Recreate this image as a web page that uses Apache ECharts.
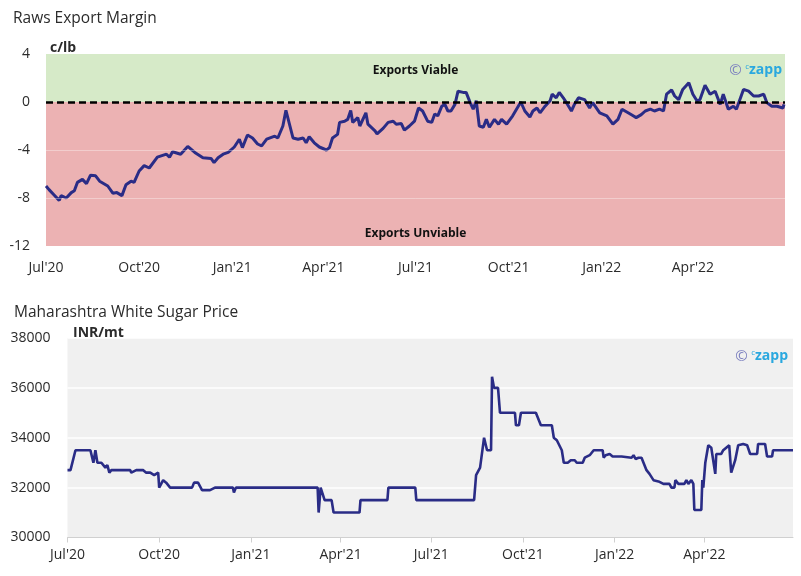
<!DOCTYPE html>
<html>
<head>
<meta charset="utf-8">
<script src="https://cdn.jsdelivr.net/npm/echarts@6/dist/echarts.min.js"></script>
<style>
html,body{margin:0;padding:0;background:#fff;}
#chart{width:801px;height:576px;}
</style>
</head>
<body>
<div id="chart"></div>
<script>
// ---- Data ----
const quarterTicks = ['2020-07-01','2020-10-01','2021-01-01','2021-04-01','2021-07-01','2021-10-01','2022-01-01','2022-04-01'];
const quarterLabels = ["Jul'20","Oct'20","Jan'21","Apr'21","Jul'21","Oct'21","Jan'22","Apr'22"];
const marginTicks = [4, 0, -4, -8, -12];
const priceTicks = [38000, 36000, 34000, 32000, 30000];

const marginDates = ['2020-07-01','2020-07-04','2020-07-09','2020-07-14','2020-07-16','2020-07-21','2020-07-26','2020-07-29',
'2020-08-01','2020-08-06','2020-08-10','2020-08-14','2020-08-19','2020-08-23','2020-08-31','2020-09-05','2020-09-09',
'2020-09-14','2020-09-18','2020-09-23','2020-09-26','2020-10-01','2020-10-06','2020-10-11','2020-10-19','2020-10-28',
'2020-10-31','2020-11-03','2020-11-11','2020-11-18','2020-11-25','2020-12-03','2020-12-11','2020-12-14','2020-12-18',
'2020-12-23','2020-12-28','2021-01-03','2021-01-08','2021-01-11','2021-01-16','2021-01-21','2021-01-26','2021-01-30',
'2021-02-04','2021-02-12','2021-02-15','2021-02-20','2021-02-23','2021-03-02','2021-03-07','2021-03-12','2021-03-15',
'2021-03-18','2021-03-23','2021-03-28','2021-04-04','2021-04-07','2021-04-10','2021-04-15','2021-04-17','2021-04-22',
'2021-04-25','2021-04-28','2021-04-30','2021-05-05','2021-05-07','2021-05-13','2021-05-15','2021-05-22','2021-05-24',
'2021-05-30','2021-06-04','2021-06-09','2021-06-12','2021-06-17','2021-06-20','2021-06-25','2021-06-30','2021-07-04',
'2021-07-08','2021-07-13','2021-07-17','2021-07-20','2021-07-23','2021-07-27','2021-07-30','2021-08-02','2021-08-05',
'2021-08-09','2021-08-12','2021-08-17','2021-08-20','2021-08-24','2021-08-27','2021-08-30','2021-09-02','2021-09-06',
'2021-09-09','2021-09-12','2021-09-17','2021-09-21','2021-09-24','2021-09-29','2021-10-05','2021-10-13','2021-10-17',
'2021-10-22','2021-10-25','2021-10-29','2021-11-01','2021-11-06','2021-11-11','2021-11-13','2021-11-17','2021-11-20',
'2021-11-24','2021-11-27','2021-12-02','2021-12-05','2021-12-09','2021-12-15','2021-12-20','2021-12-23','2021-12-30',
'2022-01-06','2022-01-12','2022-01-17','2022-01-21','2022-01-27','2022-02-01','2022-02-04','2022-02-09','2022-02-13',
'2022-02-18','2022-02-22','2022-02-27','2022-03-03','2022-03-06','2022-03-11','2022-03-14','2022-03-18','2022-03-22',
'2022-03-28','2022-04-01','2022-04-05','2022-04-08','2022-04-13','2022-04-18','2022-04-23','2022-04-28','2022-05-01',
'2022-05-06','2022-05-11','2022-05-14','2022-05-21','2022-05-26','2022-05-31','2022-06-05','2022-06-10','2022-06-13',
'2022-06-18','2022-06-23','2022-06-29','2022-06-30'];
const marginValues = [-7.0,-7.3,-7.75,-8.2,-7.8,-8.0,-7.55,-7.4,
-6.7,-6.45,-6.8,-6.1,-6.15,-6.6,-7.0,-7.6,-7.55,
-7.8,-6.9,-6.6,-6.7,-5.75,-5.3,-5.5,-4.6,-4.35,
-4.6,-4.15,-4.35,-3.7,-4.2,-4.65,-4.7,-5.05,-4.65,
-4.35,-4.2,-3.75,-3.1,-3.8,-2.75,-3.0,-3.5,-3.65,
-3.1,-2.85,-3.0,-2.0,-0.7,-3.0,-3.1,-3.0,-3.4,
-2.9,-3.4,-3.75,-4.0,-3.8,-3.0,-2.7,-1.7,-1.6,
-1.45,-0.7,-1.7,-1.3,-2.0,-0.9,-1.85,-2.4,-2.65,
-2.2,-1.7,-1.6,-1.85,-1.8,-2.35,-2.0,-1.6,-0.5,
-0.75,-1.6,-1.7,-1.0,-1.15,-0.35,-0.2,-0.75,-0.75,
-0.2,0.9,0.8,0.8,-0.05,-0.6,0.1,-2.0,-2.1,
-1.45,-2.1,-1.45,-1.85,-1.45,-1.85,-1.15,0.0,-0.75,
-1.25,-0.75,-0.5,-0.9,-0.35,0.1,0.65,0.35,0.8,
0.35,-0.05,-0.75,-0.2,0.35,0.2,-0.5,-0.05,-0.9,
-1.15,-1.85,-1.45,-0.6,-0.9,-1.15,-1.3,-1.05,-0.75,
-0.6,-0.75,-0.6,-0.75,0.65,1.0,0.5,0.2,1.05,
1.6,0.65,0.1,0.2,1.4,0.65,0.9,-0.2,0.65,
-0.6,-0.35,-0.6,1.05,0.9,0.5,0.5,0.65,-0.05,
-0.35,-0.35,-0.5,-0.2];

const priceDates = ['2020-07-01','2020-07-04','2020-07-09','2020-07-24','2020-07-27','2020-07-29','2020-07-31','2020-08-04',
'2020-08-08','2020-08-10','2020-08-12','2020-08-14','2020-09-02','2020-09-03','2020-09-08','2020-09-15','2020-09-18',
'2020-09-22','2020-09-26','2020-09-30','2020-10-01','2020-10-05','2020-10-08','2020-10-12','2020-11-03','2020-11-05',
'2020-11-09','2020-11-13','2020-11-21','2020-11-26','2020-12-14','2020-12-15','2020-12-17','2021-03-09','2021-03-10',
'2021-03-12','2021-03-14','2021-03-16','2021-03-23','2021-03-25','2021-04-20','2021-04-21','2021-05-18','2021-05-19',
'2021-06-15','2021-06-16','2021-08-13','2021-08-15','2021-08-19','2021-08-23','2021-08-26','2021-08-30','2021-08-31',
'2021-09-02','2021-09-06','2021-09-08','2021-09-23','2021-09-24','2021-09-27','2021-09-29','2021-10-14','2021-10-19',
'2021-10-30','2021-11-01','2021-11-04','2021-11-09','2021-11-11','2021-11-15','2021-11-18','2021-11-22','2021-11-24',
'2021-11-30','2021-12-02','2021-12-07','2021-12-11','2021-12-20','2021-12-21','2021-12-23','2021-12-27','2021-12-30',
'2022-01-08','2022-01-10','2022-01-18','2022-01-20','2022-01-22','2022-01-25','2022-01-28','2022-01-30','2022-02-02',
'2022-02-05','2022-02-09','2022-02-14','2022-02-19','2022-02-25','2022-02-27','2022-03-02','2022-03-03','2022-03-06',
'2022-03-12','2022-03-14','2022-03-16','2022-03-19','2022-03-21','2022-03-22','2022-03-29','2022-03-30','2022-03-31',
'2022-04-02','2022-04-05','2022-04-08','2022-04-12','2022-04-13','2022-04-18','2022-04-20','2022-04-26','2022-04-28',
'2022-05-02','2022-05-05','2022-05-10','2022-05-14','2022-05-17','2022-05-24','2022-05-25','2022-06-01','2022-06-03',
'2022-06-08','2022-06-09','2022-06-29'];
const priceValues = [32700,32700,33500,33500,33000,33500,33000,33000,
32800,32900,32600,32700,32700,32600,32700,32700,32600,
32600,32500,32600,32000,32300,32200,32000,32000,32200,
32200,31900,31900,32000,32000,31800,32000,32000,31000,
32000,32000,31500,31500,31000,31000,31500,31500,32000,
32000,31500,31500,32500,32800,34000,33500,33500,36450,
36000,36000,35000,35000,34500,34500,35000,35000,34500,
34500,34000,33900,33500,33000,33000,33100,33100,33000,
33000,33200,33300,33500,33500,33200,33300,33350,33250,
33250,33200,33200,33300,33150,33200,33200,33000,32700,
32550,32300,32250,32150,32150,32000,32000,32300,32150,
32150,32300,32150,32300,32150,31100,31100,32300,32000,
33000,33700,33600,32550,33350,33350,33500,33700,32600,
33100,33700,33750,33700,33350,33350,33750,33750,33250,
33250,33500,33500];

// ---- Helpers ----
function ts(s){ const p = s.split('-'); return Date.UTC(+p[0], +p[1]-1, +p[2]); }
const tickTimes = quarterTicks.map(ts);
const labelMap = {};
tickTimes.forEach((t,i)=>{ labelMap[t] = quarterLabels[i]; });
function fmtQuarter(v){ return labelMap[v] !== undefined ? labelMap[v] : ''; }
const marginData = marginDates.map((d,i)=>[ts(d), marginValues[i]]);
const priceData = priceDates.map((d,i)=>[ts(d), priceValues[i]]);

const FONT = '"Open Sans", "Noto Sans", sans-serif';
const LINE = '#2a2c86';
const TXT = '#2b2b2b';

const chart = echarts.init(document.getElementById('chart'), null, {renderer:'canvas'});
const logoRich = {
  a:{fill:'#7b7fbf', color:'#7b7fbf', fontSize:15, fontFamily:FONT},
  b:{fill:'#2aa8df', color:'#2aa8df', fontSize:8, fontFamily:FONT, verticalAlign:'top', padding:[0,0,6,0]},
  c:{fill:'#2aa8df', color:'#2aa8df', fontSize:14, fontWeight:'bold', fontFamily:FONT}
};
chart.setOption({
  animation:false,
  backgroundColor:'#ffffff',
  textStyle:{fontFamily:FONT},
  title:[
    {text:'Raws Export Margin', left:8, top:6, textStyle:{fontSize:15.5, fontWeight:'normal', color:TXT, fontFamily:FONT}},
    {text:'c/lb', left:45, top:36, textStyle:{fontSize:14, fontWeight:'bold', color:TXT, fontFamily:FONT}},
    {text:'Maharashtra White Sugar Price', left:9, top:300, textStyle:{fontSize:15.5, fontWeight:'normal', color:TXT, fontFamily:FONT}},
    {text:'INR/mt', left:68, top:321, textStyle:{fontSize:14, fontWeight:'bold', color:TXT, fontFamily:FONT}}
  ],
  graphic:[
    {type:'text', right:19, top:63, z:100, style:{text:'{a|©} {b|c}{c|zapp}', rich:logoRich}},
    {type:'text', right:13, top:349, z:100, style:{text:'{a|©} {b|c}{c|zapp}', rich:logoRich}}
  ],
  grid:[
    {left:46, right:16, top:54, bottom:330, show:false},
    {left:67.5, right:8, top:338, bottom:38.5, show:true, backgroundColor:'#f0f0f0', borderWidth:0}
  ],
  xAxis:[
    {type:'value', gridIndex:0, min:ts('2020-07-01'), max:ts('2022-07-01'),
     axisLine:{show:false}, axisTick:{show:false}, splitLine:{show:false},
     axisLabel:{customValues:tickTimes, formatter:fmtQuarter, color:TXT, fontSize:14, margin:15, fontFamily:FONT, hideOverlap:false}},
    {type:'value', gridIndex:1, min:ts('2020-07-01'), max:ts('2022-06-29'),
     axisLine:{show:true, lineStyle:{color:'#d0d0d0', width:1}},
     axisTick:{show:true, customValues:tickTimes, length:5, lineStyle:{color:'#d0d0d0'}},
     splitLine:{show:false},
     axisLabel:{customValues:tickTimes, formatter:fmtQuarter, color:TXT, fontSize:14, margin:11, fontFamily:FONT, hideOverlap:false}}
  ],
  yAxis:[
    {type:'value', gridIndex:0, min:-12, max:4, interval:4,
     axisLine:{show:false}, axisTick:{show:false}, splitLine:{show:false},
     axisLabel:{color:TXT, fontSize:14, margin:16, fontFamily:FONT, formatter:(v)=>String(v)}},
    {type:'value', gridIndex:1, min:30000, max:38000, interval:2000,
     axisLine:{show:false}, axisTick:{show:false},
     splitLine:{show:true, lineStyle:{color:'#ffffff', width:1.5}},
     axisLabel:{color:TXT, fontSize:14, margin:17, fontFamily:FONT, formatter:(v)=>String(v)}}
  ],
  series:[
    {type:'line', xAxisIndex:0, yAxisIndex:0, data:marginData, showSymbol:false, symbol:'none',
     lineStyle:{color:LINE, width:3}, itemStyle:{color:LINE}, z:3,
     markArea:{silent:true,
       data:[
         [{yAxis:0, itemStyle:{color:'#d6eac8'},
           label:{show:true, position:'insideTop', distance:11, formatter:'Exports Viable', color:'#111', fontSize:12, fontWeight:'bold', fontFamily:FONT}},
          {yAxis:4}],
         [{yAxis:-12, itemStyle:{color:'#ecb2b3'},
           label:{show:true, position:'insideBottom', distance:6, formatter:'Exports Unviable', color:'#111', fontSize:12, fontWeight:'bold', fontFamily:FONT}},
          {yAxis:0}]
       ]},
     markLine:{silent:true, symbol:'none', label:{show:false},
       data:[
         {yAxis:-4, lineStyle:{color:'rgba(255,255,255,0.35)', type:'solid', width:1}},
         {yAxis:-8, lineStyle:{color:'rgba(255,255,255,0.35)', type:'solid', width:1}},
         {yAxis:0, lineStyle:{color:'#000000', type:[7,4], width:2.5}}
       ]}
    },
    {type:'line', xAxisIndex:1, yAxisIndex:1, data:priceData, showSymbol:false, symbol:'none',
     lineStyle:{color:LINE, width:2.6}, itemStyle:{color:LINE}}
  ]
});
</script>
</body>
</html>
